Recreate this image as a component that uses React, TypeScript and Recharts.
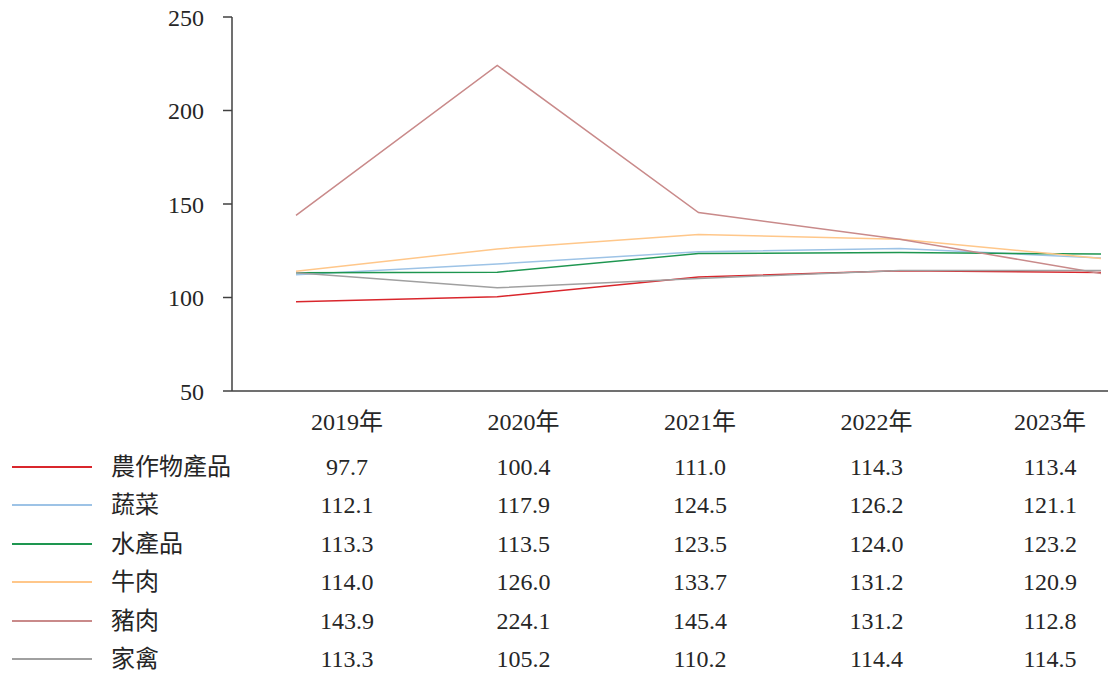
import { Line, LineChart, XAxis, YAxis } from 'recharts';

const FONT = '"Liberation Serif", "DejaVu Serif", "Noto Sans CJK TC", serif';
const INK = '#262626';
const AXIS = '#404040';

const years = ['2019年', '2020年', '2021年', '2022年', '2023年'];
const yTicks = [50, 100, 150, 200, 250];

const crops = [97.7, 100.4, 111.0, 114.3, 113.4];
const vegetables = [112.1, 117.9, 124.5, 126.2, 121.1];
const seafood = [113.3, 113.5, 123.5, 124.0, 123.2];
const beef = [114.0, 126.0, 133.7, 131.2, 120.9];
const pork = [143.9, 224.1, 145.4, 131.2, 112.8];
const poultry = [113.3, 105.2, 110.2, 114.4, 114.5];

const series = [
  { key: 'crops', name: '農作物產品', values: crops, color: '#D9262C' },
  { key: 'vegetables', name: '蔬菜', values: vegetables, color: '#9DC3E6' },
  { key: 'seafood', name: '水產品', values: seafood, color: '#1E9650' },
  { key: 'beef', name: '牛肉', values: beef, color: '#FFC78A' },
  { key: 'pork', name: '豬肉', values: pork, color: '#C98A8A' },
  { key: 'poultry', name: '家禽', values: poultry, color: '#A0A0A0' },
];

// data table under the plot: column centres, row centres
const colX = [347, 523.5, 700, 876.5, 1050];
const headerY = 422;
const rowY0 = 466.5;
const rowStep = 38.5;

function Cell({ cx, cy, text }: { cx: number; cy: number; text: string }) {
  return (
    <div
      style={{
        position: 'absolute',
        left: cx - 70,
        top: cy - 15,
        width: 140,
        height: 30,
        lineHeight: '30px',
        textAlign: 'center',
        fontSize: 24,
        color: INK,
        whiteSpace: 'nowrap',
      }}
    >
      {text}
    </div>
  );
}

export default function App() {
  const data = years.map((year, i) => {
    const row: Record<string, string | number> = { year };
    series.forEach((s) => {
      row[s.key] = s.values[i];
    });
    return row;
  });

  return (
    <div style={{ position: 'relative', width: 1108, height: 673, background: '#fff', fontFamily: FONT, overflow: 'hidden' }}>
      <style>{'body{margin:0}'}</style>
      <LineChart width={1108} height={405} data={data} margin={{ top: 17, right: 0, left: 0, bottom: 13 }}>
        <XAxis
          dataKey="year"
          tick={false}
          tickLine={false}
          height={1}
          padding={{ left: 64, right: 7 }}
          axisLine={{ stroke: AXIS, strokeWidth: 1.5 }}
        />
        <YAxis
          domain={[50, 250]}
          ticks={yTicks}
          interval={0}
          width={232}
          tickSize={9}
          tickMargin={19}
          axisLine={{ stroke: AXIS, strokeWidth: 1.5 }}
          tickLine={{ stroke: AXIS, strokeWidth: 1.5 }}
          tick={{ fontSize: 24, fill: INK, fontFamily: FONT }}
        />
        {series.map((s) => (
          <Line
            key={s.key}
            dataKey={s.key}
            name={s.name}
            stroke={s.color}
            strokeWidth={1.5}
            dot={false}
            activeDot={false}
            isAnimationActive={false}
          />
        ))}
      </LineChart>

      {years.map((y, i) => (
        <Cell key={y} cx={colX[i]} cy={headerY} text={y} />
      ))}

      {series.map((s, r) => {
        const cy = rowY0 + rowStep * r;
        return (
          <div key={s.key}>
            <div style={{ position: 'absolute', left: 12, top: cy - 1, width: 80, height: 2, background: s.color }} />
            <div
              style={{
                position: 'absolute',
                left: 111,
                top: cy - 15,
                height: 30,
                lineHeight: '30px',
                fontSize: 24,
                color: INK,
                whiteSpace: 'nowrap',
              }}
            >
              {s.name}
            </div>
            {s.values.map((v, i) => (
              <Cell key={i} cx={colX[i]} cy={cy} text={v.toFixed(1)} />
            ))}
          </div>
        );
      })}
    </div>
  );
}
